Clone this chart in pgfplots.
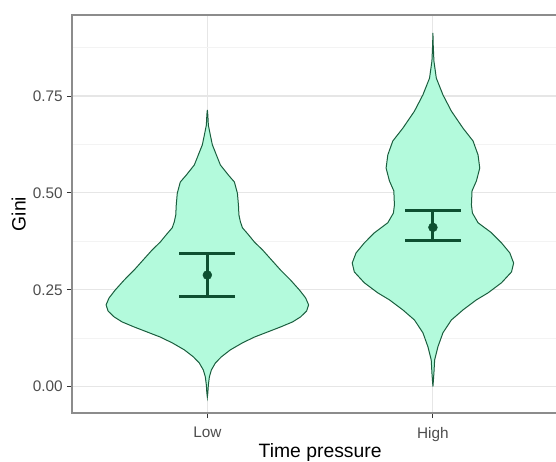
\documentclass[border=0pt]{standalone}
\usepackage{fontspec}
\setmainfont{Liberation Sans}
\usepackage{pgfplots}
\pgfplotsset{compat=1.18}
\definecolor{vfill}{HTML}{B3FADC}
\definecolor{vline}{HTML}{1A5E3E}
\definecolor{ebar}{HTML}{0E4F31}
\definecolor{frame}{HTML}{8C8C8C}
\definecolor{gmaj}{HTML}{E6E6E6}
\definecolor{gmin}{HTML}{F3F3F3}
\definecolor{tlab}{HTML}{4D4D4D}
\begin{document}
\begin{tikzpicture}
\begin{axis}[
  scale only axis,
  width=372.2pt, height=298.5pt,
  xmin=0.4, xmax=2.6,
  ymin=-0.068, ymax=0.959,
  xtick={1,2}, xticklabels={Low,High},
  ytick={0,0.25,0.5,0.75},
  yticklabels={0.00,0.25,0.50,0.75},
  minor ytick={0.125,0.375,0.625,0.875},
  minor tick length=0pt,
  grid=both,
  major grid style={gmaj, line width=0.8pt},
  minor grid style={gmin, line width=0.5pt},
  axis line style={frame, line width=0.9pt},
  tick align=outside,
  tick pos=left,
  major tick length=3.75pt,
  tick style={black!80, line width=0.7pt},
  /pgf/number format/assume math mode=true,
  tick label style={font=\fontsize{11.5}{13}\selectfont, tlab},
  yticklabel style={anchor=east, inner sep=0pt, xshift=-3pt},
  xticklabel style={anchor=north, inner sep=0pt, yshift=-6.5pt},
  xlabel={Time pressure}, ylabel={Gini},
  label style={font=\fontsize{14.5}{16}\selectfont, black},
  xlabel style={at={(rel axis cs:0.5,0)}, anchor=north, inner sep=0pt, yshift=-22.6pt},
  ylabel style={at={(rel axis cs:0,0.5)}, anchor=center, inner sep=0pt, yshift=40pt},
]
\coordinate (ll) at (rel axis cs:0,0);
% Low violin
\addplot[draw=vline, fill=vfill, line width=0.75pt] coordinates {
(1,0.714)(1.0022,0.701)(1.0044,0.675)(1.0133,0.649)(1.0222,0.624)(1.040,0.598)(1.0578,0.572)(1.0933,0.546)(1.12,0.528)(1.1333,0.499)(1.1378,0.469)(1.14,0.443)(1.1467,0.425)(1.1556,0.410)(1.1822,0.392)(1.2089,0.373)(1.2444,0.353)(1.2844,0.327)(1.3244,0.301)(1.3689,0.275)(1.4089,0.249)(1.4356,0.229)(1.4489,0.211)(1.44,0.195)(1.4133,0.180)(1.3778,0.167)(1.3244,0.154)(1.2667,0.141)(1.2089,0.128)(1.1556,0.113)(1.1022,0.095)(1.0622,0.077)(1.0356,0.061)(1.0178,0.043)(1.0089,0.025)(1.0044,0.004)(1.0022,-0.016)(1,-0.027)
(0.9978,-0.016)(0.9956,0.004)(0.9911,0.025)(0.9822,0.043)(0.9644,0.061)(0.9378,0.077)(0.8978,0.095)(0.8444,0.113)(0.7911,0.128)(0.7333,0.141)(0.6756,0.154)(0.6222,0.167)(0.5867,0.180)(0.56,0.195)(0.5511,0.211)(0.5644,0.229)(0.5911,0.249)(0.6311,0.275)(0.6756,0.301)(0.7156,0.327)(0.7556,0.353)(0.7911,0.373)(0.8178,0.392)(0.8444,0.410)(0.8533,0.425)(0.86,0.443)(0.8622,0.469)(0.8667,0.499)(0.88,0.528)(0.9067,0.546)(0.9422,0.572)(0.96,0.598)(0.9778,0.624)(0.9867,0.649)(0.9956,0.675)(0.9978,0.701)
} -- cycle;
% High violin
\addplot[draw=vline, fill=vfill, line width=0.75pt] coordinates {
(2,0.913)(2.0013,0.882)(2.0044,0.840)(2.0151,0.796)(2.0444,0.753)(2.0818,0.711)(2.1333,0.667)(2.1778,0.634)(2.2,0.598)(2.2076,0.564)(2.1929,0.531)(2.1733,0.505)(2.1707,0.469)(2.1751,0.448)(2.2,0.423)(2.2596,0.397)(2.304,0.371)(2.3409,0.345)(2.3578,0.319)(2.3484,0.296)(2.304,0.268)(2.2444,0.242)(2.1929,0.224)(2.1333,0.198)(2.0818,0.172)(2.0444,0.139)(2.0222,0.103)(2.0076,0.069)(2.0044,0.035)(2,0)
(1.9956,0.035)(1.9924,0.069)(1.9778,0.103)(1.9556,0.139)(1.9182,0.172)(1.8667,0.198)(1.8071,0.224)(1.7556,0.242)(1.696,0.268)(1.6516,0.296)(1.6422,0.319)(1.6591,0.345)(1.696,0.371)(1.7404,0.397)(1.8,0.423)(1.8249,0.448)(1.8293,0.469)(1.8267,0.505)(1.8071,0.531)(1.7924,0.564)(1.8,0.598)(1.8222,0.634)(1.8667,0.667)(1.9182,0.711)(1.9556,0.753)(1.9849,0.796)(1.9956,0.840)(1.9987,0.882)
} -- cycle;
% means with confidence intervals
\addplot[ebar, only marks, mark=*, mark size=3.3pt,
  error bars/.cd, y dir=both, y explicit,
  error bar style={ebar, line width=2.2pt},
  error mark options={ebar, rotate=90, mark size=20.9pt, line width=2.2pt}]
  coordinates {
  (1,0.288) += (0,0.056) -= (0,0.056)
  (2,0.411) += (0,0.043) -= (0,0.033)
};
\end{axis}
\pgfresetboundingbox
\path[use as bounding box] (ll) ++(-54pt,-36pt) rectangle ++(417pt,345.75pt);
\end{tikzpicture}
\end{document}
